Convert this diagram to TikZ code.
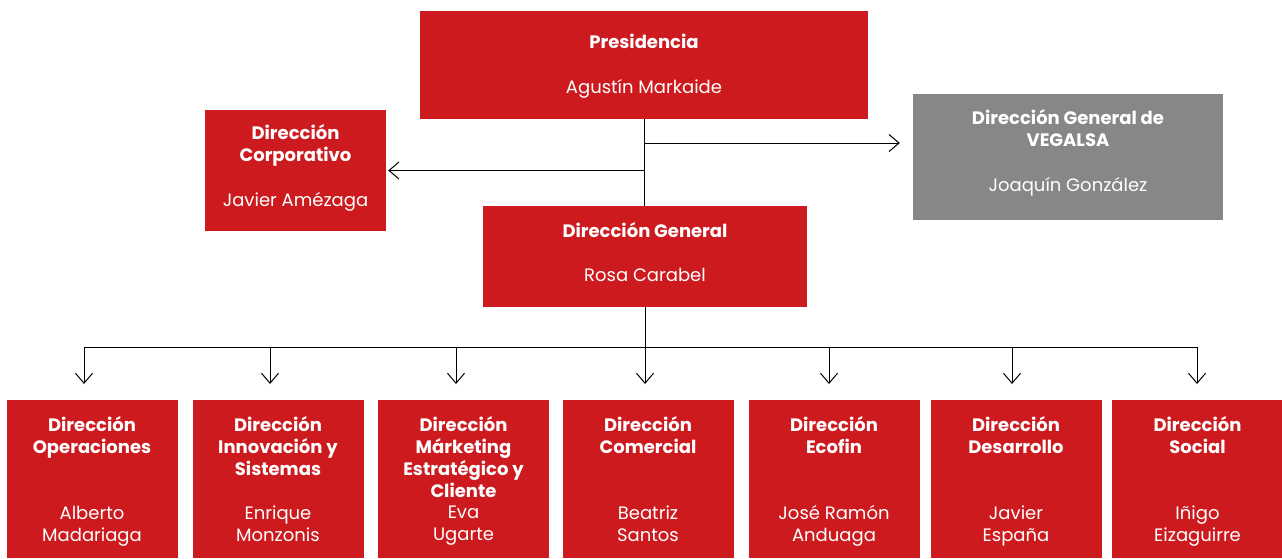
\documentclass[tikz,border=0pt]{standalone}
\usepackage{fontspec}
\setmainfont{Poppins}
\usepackage{xcolor}
\usetikzlibrary{arrows.meta,positioning}
\definecolor{orgred}{RGB}{205,26,31}
\definecolor{orggray}{RGB}{135,135,135}
\newcommand{\ttl}[1]{\textbf{#1}}
\tikzset{
	box/.style={fill=orgred, draw=none, inner sep=0pt},
	graybox/.style={box, fill=orggray},
	label text/.style={
			inner sep=0pt, text=white, align=center, anchor=north,
			font=\fontsize{18}{22}\selectfont
		},
	link/.style={line width=1pt, draw=black}
}

\begin{document}
\begin{tikzpicture}[x=1pt, y=-1pt, >={Straight Barb[length=10pt,width=17pt]}]
\useasboundingbox (0,0) rectangle (1282,558);
% Top boxes
\node[box, minimum width=448pt, minimum height=108pt] (pres) at (644,65) {};
\node[label text] (presT) at (644,34) {\ttl{Presidencia}\\[23pt]Agustín Markaide};
\node[box, minimum width=181pt, minimum height=121pt] (corp) at (295.5,170.5) {};
\node[label text] (corpT) at (295.5,124.5) {\ttl{Dirección}\\\ttl{Corporativo}\\[23pt]Javier Amézaga};
\node[graybox, minimum width=310pt, minimum height=126pt] (veg) at (1068,157) {};
\node[label text] (vegT) at (1068,109.5) {\ttl{Dirección General de}\\\ttl{VEGALSA}\\[23pt]Joaquín González};
\node[box, minimum width=324pt, minimum height=101pt] (dg) at (645,256.5) {};
\node[label text] (dgT) at (645,222.5) {\ttl{Dirección General}\\[22pt]Rosa Carabel};
% Bottom boxes
\foreach \i/\x/\ax/\t/\n in {
		1/92/84/{Dirección\\Operaciones}/{Alberto\\Madariaga},
		2/278/270/{Dirección\\Innovación y\\Sistemas}/{Enrique\\Monzonis},
		3/463.5/456/{Dirección\\Márketing\\Estratégico y\\Cliente}/{Eva\\Ugarte},
		4/648/645/{Dirección\\Comercial}/{Beatriz\\Santos},
		5/834/829/{Dirección\\Ecofin}/{José Ramón\\Anduaga},
		6/1016/1012/{Dirección\\Desarrollo}/{Javier\\España},
		7/1197.5/1197/{Dirección\\Social}/{Iñigo\\Eizaguirre}} {
		\node[box, minimum width=171pt, minimum height=158pt] (b\i) at (\x,479) {};
		\node[label text, font=\fontsize{18}{22}\selectfont\bfseries] (t\i) at (\x,416.5) {\t};
		\node[label text] (n\i) at (\x,505.5) {\n};
		\coordinate (a\i) at (\ax,384);
	}
% Connectors
\coordinate (bus) at (645,347);
\draw[link] (pres.south) -- (pres.south |- dg.north);
\draw[link, ->] (pres.south |- corp.east) -- ([xshift=2pt]corp.east);
\draw[link, ->] (pres.south |- 0,143) -- ([xshift=-13pt]veg.west |- 0,143);
\draw[link] (dg.south -| bus) -- (bus);
\draw[link] (a1 |- bus) -- (a7 |- bus);
\foreach \i in {1,...,7} {
		\draw[link, ->] (a\i |- bus) -- (a\i);
	}
\end{tikzpicture}
\end{document}
